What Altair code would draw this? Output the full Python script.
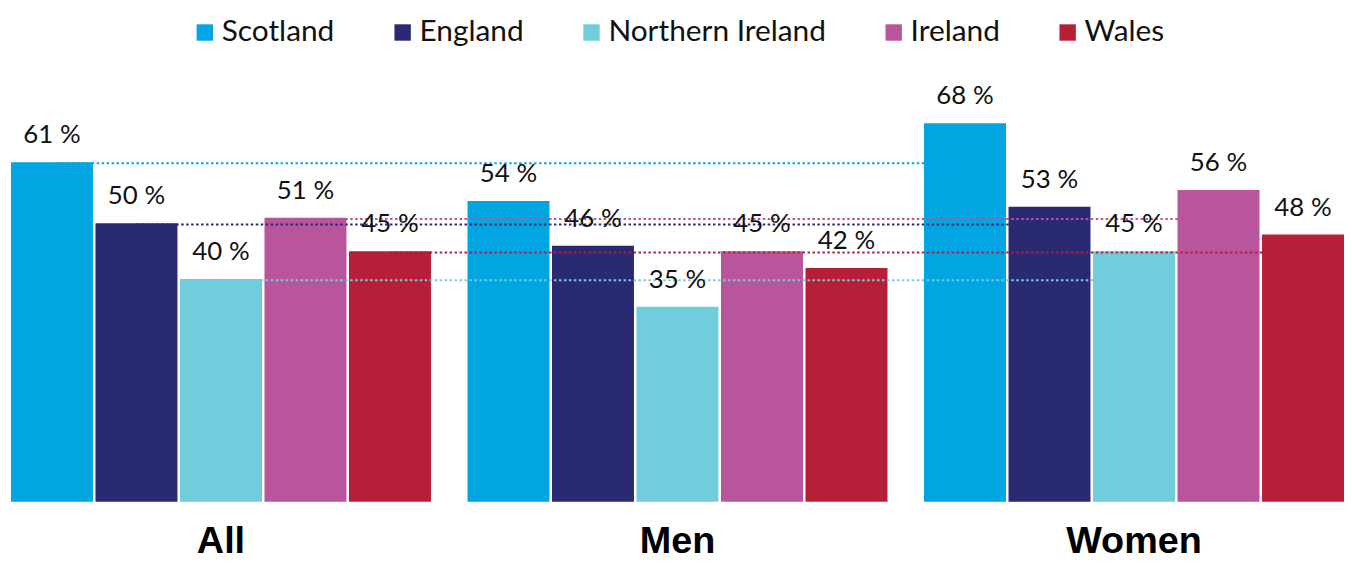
import altair as alt
import pandas as pd

groups = ["All", "Men", "Women"]
countries = ["Scotland", "England", "Northern Ireland", "Ireland", "Wales"]
colors = ["#00a5e2", "#292a72", "#71cddc", "#b8559d", "#b51f37"]

all_values = [61, 50, 40, 51, 45]
men_values = [54, 46, 35, 45, 42]
women_values = [68, 53, 45, 56, 48]

rows = []
for g, vals in zip(groups, [all_values, men_values, women_values]):
    for c, v in zip(countries, vals):
        rows.append({"group": g, "country": c, "value": v, "label": f"{v} %"})
df = pd.DataFrame(rows)

# reference lines: the "All" value of each country, carried across to Women
line_rows = []
for c, v in zip(countries, all_values):
    for g in ["All", "Women"]:
        line_rows.append({"group": g, "country": c, "value": v})
df_lines = pd.DataFrame(line_rows)

x_enc = alt.X(
    "group:N",
    sort=groups,
    scale=alt.Scale(paddingInner=0.08, paddingOuter=0),
    axis=alt.Axis(
        title=None,
        labelAngle=0,
        domain=False,
        ticks=False,
        grid=False,
        labelFont="Liberation Sans",
        labelFontWeight="bold",
        labelFontSize=38,
        labelColor="#000000",
        labelPadding=21,
    ),
)
xo_enc = alt.XOffset("country:N", sort=countries, scale=alt.Scale(paddingInner=0.03))
y_enc = alt.Y("value:Q", scale=alt.Scale(domain=[0, 70], nice=False, zero=True), axis=None)

bars = alt.Chart(df).mark_bar().encode(
    x=x_enc,
    xOffset=xo_enc,
    y=y_enc,
    color=alt.Color(
        "country:N",
        sort=countries,
        scale=alt.Scale(domain=countries, range=colors),
        legend=alt.Legend(
            title=None,
            orient="none",
            legendX=180,
            legendY=-95,
            direction="horizontal",
            columns=5,
            symbolType="square",
            symbolSize=272,
            symbolStrokeWidth=0,
            labelFont="Lato",
            labelFontSize=30,
            labelColor="#111111",
            labelOffset=2,
            columnPadding=53,
            labelLimit=400,
        ),
    ),
)

labels = alt.Chart(df).mark_text(
    font="Lato", fontSize=26, color="#111111", dy=-19, baseline="alphabetic", align="center"
).encode(
    x=x_enc,
    xOffset=xo_enc,
    y=y_enc,
    text="label:N",
)

lines = alt.Chart(df_lines).mark_line(strokeDash=[2.5, 2.5], strokeWidth=2, yOffset=1.2).encode(
    x=x_enc,
    xOffset=xo_enc,
    y=y_enc,
    detail="country:N",
    stroke=alt.Stroke(
        "country:N", scale=alt.Scale(domain=countries, range=colors), legend=None
    ),
)

chart = (
    alt.layer(bars, lines, labels)
    .properties(
        width=1341,
        height=392,
        autosize=alt.AutoSizeParams(type="none"),
        padding={"left": 3, "top": 103, "right": 0, "bottom": 60},
    )
    .configure_view(stroke=None)
)

chart.save("out.html", embed_options={"renderer": "svg", "actions": False})
